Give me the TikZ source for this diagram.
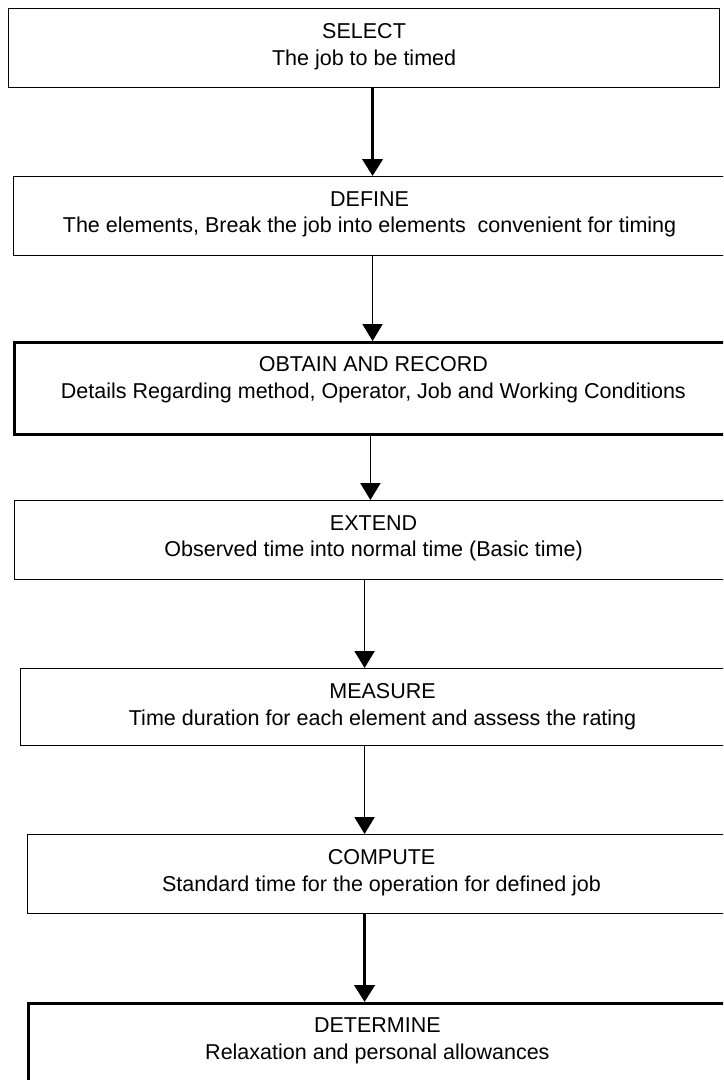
\documentclass[tikz,border=0pt]{standalone}
\usepackage{fontspec}
\setmainfont{Liberation Sans}
\usetikzlibrary{arrows.meta}

\begin{document}
\begin{tikzpicture}[>={Triangle[width=0.5cm,length=0.42cm]},
  box/.style={draw, line width=0.8pt, minimum height=1.975cm, anchor=north west, inner sep=0pt},
  boldbox/.style={box, line width=2pt, minimum height=2.3cm},
  steptext/.style={anchor=north, align=center, inner sep=0pt, font=\fontsize{15.3}{19}\selectfont},
  flow/.style={->, line width=1pt},
  boldflow/.style={->, line width=2.6pt}]

\useasboundingbox (0,0) rectangle (18.075,-27);
\clip (0,0) rectangle (18.075,-27);

%%% Boxes (the right side runs off the page, as in the scan)
\node[box, minimum width=17.775cm] (select)  at (0.2,-0.2) {};
\node[box, minimum width=17.8cm]   (define)  at (0.325,-4.4) {};
\node[boldbox, minimum width=17.95cm] (obtain) at (0.325,-8.525) {};
\node[box, minimum width=17.95cm]  (extend)  at (0.35,-12.5) {};
\node[box, minimum width=18.1cm, minimum height=1.925cm] (measure) at (0.5,-16.7) {};
\node[box, minimum width=17.7cm]   (compute) at (0.675,-20.85) {};
\node[boldbox, minimum width=17.45cm] (determine) at (0.675,-25.05) {};

%%% Texts
\node[steptext] (selecttxt) at ([yshift=-0.38cm]select.north)
  {SELECT\\The job to be timed};
\node[steptext] (definetxt) at ([yshift=-0.38cm]define.north)
  {DEFINE\\The elements, Break the job into elements\ \ convenient for timing};
\node[steptext] (obtaintxt) at ([yshift=-0.38cm]obtain.north)
  {OBTAIN AND RECORD\\Details Regarding method, Operator, Job and Working Conditions};
\node[steptext] (extendtxt) at ([yshift=-0.38cm]extend.north)
  {EXTEND\\Observed time into normal time (Basic time)};
\node[steptext] (measuretxt) at ([yshift=-0.38cm]measure.north)
  {MEASURE\\Time duration for each element and assess the rating};
\node[steptext] (computetxt) at ([yshift=-0.38cm]compute.north)
  {COMPUTE\\Standard time for the operation for defined job};
\node[steptext] (determinetxt) at ([yshift=-0.38cm]determine.north)
  {DETERMINE\\Relaxation and personal allowances};

%%% Arrows
\coordinate (a1) at ([xshift=0.2125cm]select.south);
\coordinate (a2) at ([xshift=0.075cm]define.south);
\coordinate (a3) at ([xshift=-0.075cm]obtain.south);
\coordinate (a4) at ([xshift=-0.225cm]extend.south);
\coordinate (a5) at ([xshift=-0.45cm]measure.south);
\coordinate (a6) at ([xshift=-0.425cm]compute.south);
\draw[boldflow] (a1) -- (a1 |- define.north);
\draw[flow] (a2) -- (a2 |- obtain.north);
\draw[flow] (a3) -- (a3 |- extend.north);
\draw[flow] (a4) -- (a4 |- measure.north);
\draw[flow] (a5) -- (a5 |- compute.north);
\draw[boldflow] (a6) -- (a6 |- determine.north);

\end{tikzpicture}
\end{document}
